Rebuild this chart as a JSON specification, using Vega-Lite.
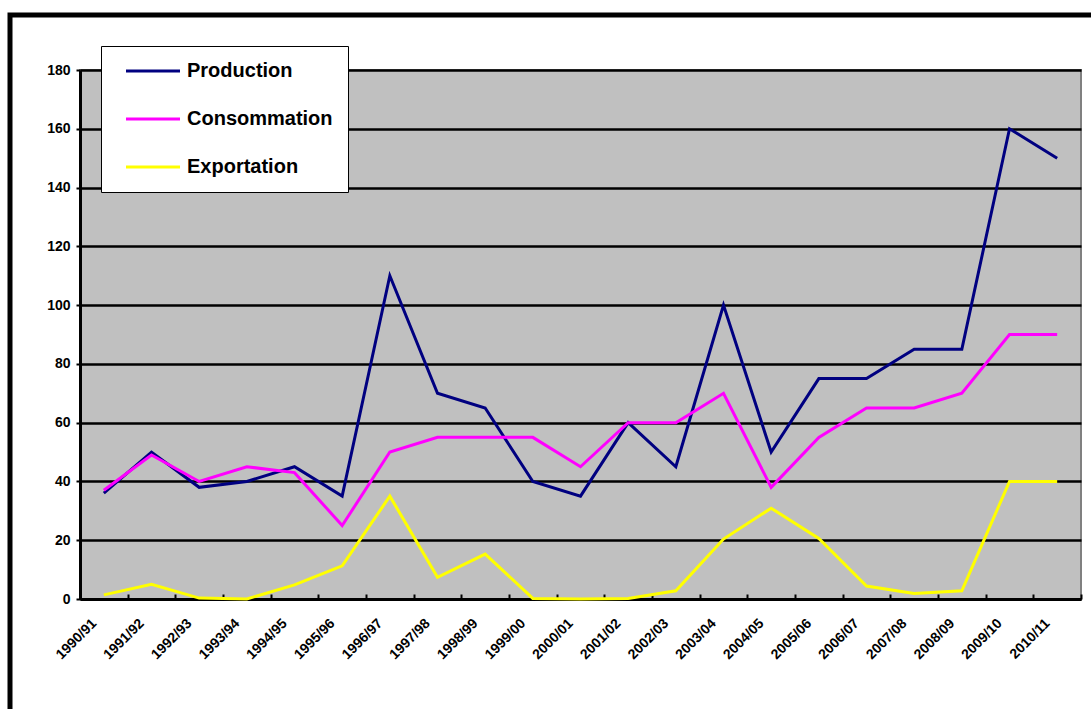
{
  "$schema": "https://vega.github.io/schema/vega-lite/v6.json",
  "width": 1001,
  "height": 529,
  "autosize": {"type": "none"},
  "padding": {"left": 80, "top": 70, "right": 10, "bottom": 110},
  "background": "white",
  "config": {
    "font": "Liberation Sans",
    "view": {"fill": "#C0C0C0", "stroke": "#808080", "strokeWidth": 2}
  },
  "data": {
    "values": [
      {"season": "1990/91", "series": "Production", "value": 36},
      {"season": "1991/92", "series": "Production", "value": 50},
      {"season": "1992/93", "series": "Production", "value": 38},
      {"season": "1993/94", "series": "Production", "value": 40},
      {"season": "1994/95", "series": "Production", "value": 45},
      {"season": "1995/96", "series": "Production", "value": 35},
      {"season": "1996/97", "series": "Production", "value": 110},
      {"season": "1997/98", "series": "Production", "value": 70},
      {"season": "1998/99", "series": "Production", "value": 65},
      {"season": "1999/00", "series": "Production", "value": 40},
      {"season": "2000/01", "series": "Production", "value": 35},
      {"season": "2001/02", "series": "Production", "value": 60},
      {"season": "2002/03", "series": "Production", "value": 45},
      {"season": "2003/04", "series": "Production", "value": 100},
      {"season": "2004/05", "series": "Production", "value": 50},
      {"season": "2005/06", "series": "Production", "value": 75},
      {"season": "2006/07", "series": "Production", "value": 75},
      {"season": "2007/08", "series": "Production", "value": 85},
      {"season": "2008/09", "series": "Production", "value": 85},
      {"season": "2009/10", "series": "Production", "value": 160},
      {"season": "2010/11", "series": "Production", "value": 150},
      {"season": "1990/91", "series": "Consommation", "value": 37},
      {"season": "1991/92", "series": "Consommation", "value": 49},
      {"season": "1992/93", "series": "Consommation", "value": 40},
      {"season": "1993/94", "series": "Consommation", "value": 45},
      {"season": "1994/95", "series": "Consommation", "value": 43},
      {"season": "1995/96", "series": "Consommation", "value": 25},
      {"season": "1996/97", "series": "Consommation", "value": 50},
      {"season": "1997/98", "series": "Consommation", "value": 55},
      {"season": "1998/99", "series": "Consommation", "value": 55},
      {"season": "1999/00", "series": "Consommation", "value": 55},
      {"season": "2000/01", "series": "Consommation", "value": 45},
      {"season": "2001/02", "series": "Consommation", "value": 60},
      {"season": "2002/03", "series": "Consommation", "value": 60},
      {"season": "2003/04", "series": "Consommation", "value": 70},
      {"season": "2004/05", "series": "Consommation", "value": 38},
      {"season": "2005/06", "series": "Consommation", "value": 55},
      {"season": "2006/07", "series": "Consommation", "value": 65},
      {"season": "2007/08", "series": "Consommation", "value": 65},
      {"season": "2008/09", "series": "Consommation", "value": 70},
      {"season": "2009/10", "series": "Consommation", "value": 90},
      {"season": "2010/11", "series": "Consommation", "value": 90},
      {"season": "1990/91", "series": "Exportation", "value": 1.4},
      {"season": "1991/92", "series": "Exportation", "value": 5},
      {"season": "1992/93", "series": "Exportation", "value": 0.3},
      {"season": "1993/94", "series": "Exportation", "value": 0},
      {"season": "1994/95", "series": "Exportation", "value": 4.8},
      {"season": "1995/96", "series": "Exportation", "value": 11.3},
      {"season": "1996/97", "series": "Exportation", "value": 35},
      {"season": "1997/98", "series": "Exportation", "value": 7.4},
      {"season": "1998/99", "series": "Exportation", "value": 15.3},
      {"season": "1999/00", "series": "Exportation", "value": 0.2},
      {"season": "2000/01", "series": "Exportation", "value": 0},
      {"season": "2001/02", "series": "Exportation", "value": 0.2},
      {"season": "2002/03", "series": "Exportation", "value": 2.8},
      {"season": "2003/04", "series": "Exportation", "value": 20.4},
      {"season": "2004/05", "series": "Exportation", "value": 30.9},
      {"season": "2005/06", "series": "Exportation", "value": 20.6},
      {"season": "2006/07", "series": "Exportation", "value": 4.4},
      {"season": "2007/08", "series": "Exportation", "value": 1.9},
      {"season": "2008/09", "series": "Exportation", "value": 2.8},
      {"season": "2009/10", "series": "Exportation", "value": 40},
      {"season": "2010/11", "series": "Exportation", "value": 40}
    ]
  },
  "encoding": {
    "x": {
      "field": "season",
      "type": "nominal",
      "sort": null,
      "scale": {"type": "band", "paddingInner": 0, "paddingOuter": 0},
      "axis": {
        "title": null,
        "grid": false,
        "tickBand": "extent",
        "domainColor": "black",
        "domainWidth": 3,
        "tickColor": "black",
        "tickWidth": 2,
        "tickSize": -5,
        "labelAngle": -45,
        "labelAlign": "right",
        "labelBaseline": "middle",
        "labelFont": "Liberation Sans",
        "labelFontWeight": "bold",
        "labelFontSize": 14,
        "labelColor": "black",
        "labelPadding": 27,
        "labelOffset": -10
      }
    },
    "y": {
      "field": "value",
      "type": "quantitative",
      "scale": {"domain": [0, 180], "nice": false},
      "axis": {
        "title": null,
        "values": [0, 20, 40, 60, 80, 100, 120, 140, 160, 180],
        "grid": true,
        "gridColor": "black",
        "gridWidth": 2.5,
        "gridOpacity": 1,
        "domainColor": "black",
        "domainWidth": 3,
        "tickColor": "black",
        "tickWidth": 2,
        "tickSize": 4,
        "labelPadding": 6,
        "labelFont": "Liberation Sans",
        "labelFontWeight": "bold",
        "labelFontSize": 14,
        "labelColor": "black"
      }
    }
  },
  "layer": [
    {
      "mark": {"type": "point", "opacity": 0, "filled": true},
      "encoding": {
        "fill": {
          "field": "value",
          "type": "quantitative",
          "scale": {"range": ["rgba(255,255,255,0)", "rgba(255,255,255,0)"]},
          "legend": {
            "title": null,
            "orient": "none",
            "legendX": -70,
            "legendY": -55,
            "direction": "vertical",
            "padding": 0,
            "labels": false,
            "values": [0, 180],
            "labelExpr": "''",
            "labelOpacity": 0,
            "gradientLength": 760,
            "gradientThickness": 1150,
            "gradientOpacity": 1,
            "gradientStrokeColor": "black",
            "gradientStrokeWidth": 5
          }
        }
      }
    },
    {
      "mark": {"type": "line", "strokeWidth": 3},
      "encoding": {
        "color": {
          "field": "series",
          "type": "nominal",
          "scale": {
            "domain": ["Production", "Consommation", "Exportation"],
            "range": ["#000080", "#FF00FF", "#FFFF00"]
          },
          "legend": {
            "title": null,
            "orient": "none",
            "legendX": 21,
            "legendY": -24,
            "fillColor": "white",
            "strokeColor": "black",
            "padding": 15,
            "symbolType": "M0,0H10.8",
            "symbolSize": 100,
            "symbolStrokeWidth": 3,
            "labelFont": "Liberation Sans",
            "labelFontWeight": "bold",
            "labelFontSize": 20,
            "labelColor": "black",
            "labelOffset": 51,
            "rowPadding": 28
          }
        }
      }
    }
  ]
}
